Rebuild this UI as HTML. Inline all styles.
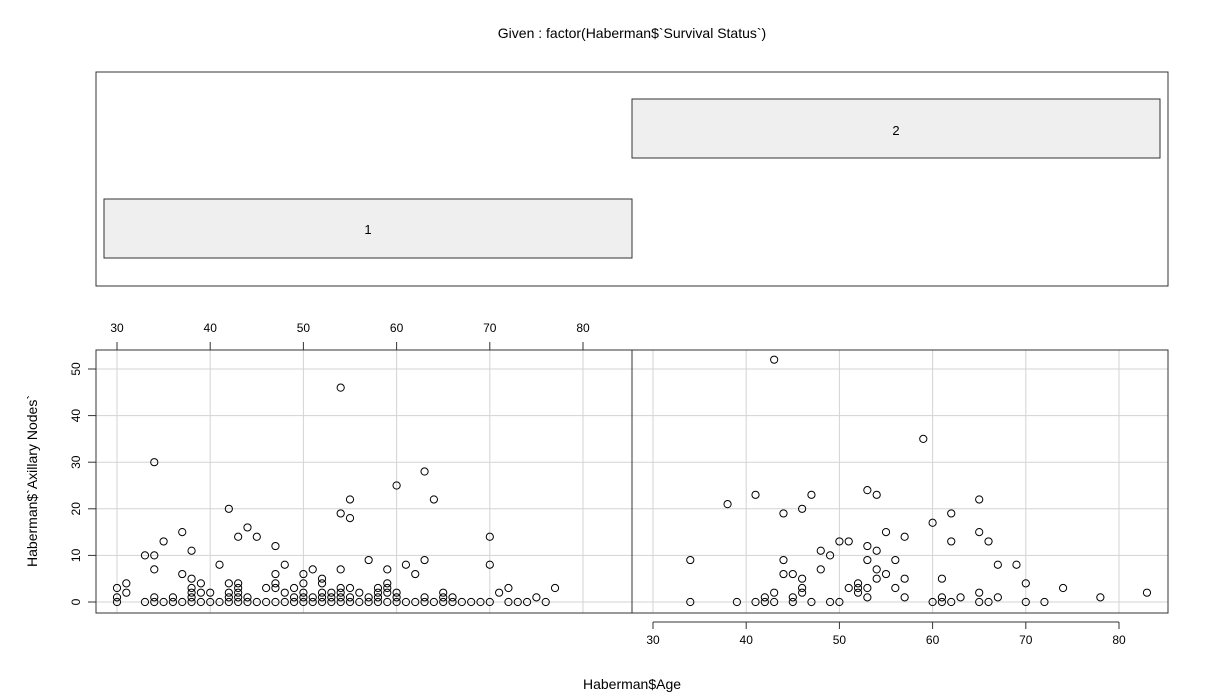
<!DOCTYPE html>
<html><head><meta charset="utf-8"><style>
body{margin:0;background:#fff;}
svg{display:block;font-family:"Liberation Sans",sans-serif;}
</style></head><body>
<svg id="c" width="1232" height="700" xmlns="http://www.w3.org/2000/svg">
<text x="632" y="38" font-size="14" text-anchor="middle">Given : factor(Haberman$`Survival Status`)</text>
<rect x="96" y="72" width="1072" height="214" fill="none" stroke="#333" stroke-width="1"/>
<rect x="632" y="99" width="528" height="59" fill="#efefef" stroke="#333"/>
<text x="896" y="135" font-size="13" text-anchor="middle">2</text>
<rect x="104" y="199" width="528" height="59" fill="#efefef" stroke="#333"/>
<text x="368" y="234" font-size="13" text-anchor="middle">1</text>
<text x="632" y="689" font-size="14" text-anchor="middle">Haberman$Age</text>
<text transform="translate(37,481) rotate(-90)" font-size="14" text-anchor="middle">Haberman$`Axillary Nodes`</text>
<g id="plots"></g>
</svg>
<script>
const xTicks=[30,40,50,60,70,80];
const yTicks=[0,10,20,30,40,50];
const ages1=[30,30,30,31,31,33,33,34,34,34,34,34,35,35,36,36,37,37,37,38,38,38,38,38,38,39,39,39,40,40,41,41,42,42,42,42,42,43,43,43,43,43,43,44,44,44,45,45,46,46,47,47,47,47,47,48,48,48,49,49,49,50,50,50,50,50,51,51,51,52,52,52,52,52,53,53,53,54,54,54,54,54,54,54,55,55,55,55,55,56,56,57,57,57,58,58,58,58,59,59,59,59,59,60,60,60,60,61,61,62,62,63,63,63,63,64,64,65,65,65,66,66,67,68,69,70,70,70,71,72,72,73,74,75,76,77];
const nodes1=[0,1,3,2,4,0,10,0,1,7,10,30,0,13,0,1,0,6,15,0,1,2,3,5,11,0,2,4,0,2,0,8,0,1,2,4,20,0,1,2,3,4,14,0,1,16,0,14,0,3,0,3,4,6,12,0,2,8,0,1,3,0,1,2,4,6,0,1,7,0,1,2,4,5,0,1,2,0,1,2,3,7,19,46,0,1,3,18,22,0,2,0,1,9,0,1,2,3,0,2,3,4,7,0,1,2,25,0,8,0,6,0,1,9,28,0,22,0,1,2,0,1,0,0,0,0,8,14,2,0,3,0,0,1,0,3];
const ages2=[34,34,38,39,41,41,42,42,43,43,43,44,44,44,45,45,45,46,46,46,46,47,47,48,48,49,49,50,50,51,51,52,52,52,53,53,53,53,53,54,54,54,54,55,55,56,56,57,57,57,59,60,60,61,61,61,62,62,62,63,65,65,65,65,66,66,67,67,69,70,70,72,74,78,83];
const nodes2=[0,9,21,0,0,23,0,1,0,2,52,6,9,19,0,1,6,2,3,5,20,0,23,7,11,0,10,0,13,3,13,2,3,4,1,3,9,12,24,5,7,11,23,6,15,3,9,1,5,14,35,0,17,0,1,5,0,13,19,1,0,2,15,22,0,13,1,8,8,0,4,0,3,1,2];
const NS="http://www.w3.org/2000/svg";
const gEl=document.getElementById('plots');
const pTop=350,pBot=613;
const yS=v=>602-(v)*(602-369)/50;
function mk(t,a){const e=document.createElementNS(NS,t);for(const k in a)e.setAttribute(k,a[k]);gEl.appendChild(e);return e;}
function panel(x0,x1,ages,nodes,idx,axisTop){
  const xS=v=>x0+21+(v-30)*(466/50);
  xTicks.forEach(t=>{const e=mk('line',{x1:xS(t),x2:xS(t),y1:pTop,y2:pBot,stroke:'#d3d3d3'});
    
    });
  yTicks.forEach(t=>{const e=mk('line',{x1:x0,x2:x1,y1:yS(t),y2:yS(t),stroke:'#d3d3d3'});
    
    });
  const b=mk('rect',{x:x0,y:pTop,width:x1-x0,height:pBot-pTop,fill:'none',stroke:'#333'});
  
  
  const ay=axisTop?pTop:pBot+9, d=axisTop?-8:7;
  const al=mk('line',{x1:xS(30),x2:xS(80),y1:ay,y2:ay,stroke:'#333'});
  
  
  xTicks.forEach(t=>{
    const tk=mk('line',{x1:xS(t),x2:xS(t),y1:ay,y2:ay+d,stroke:'#333'});
    
    
    const tx=mk('text',{x:xS(t),y:axisTop?ay-18:ay+22,'font-size':12,'text-anchor':'middle'});
    tx.textContent=t;
    
    
  });
  ages.forEach((a,i)=>{const c=mk('circle',{cx:xS(a),cy:yS(nodes[i]),r:3.6,fill:'none',stroke:'#000','stroke-width':1});
    
    });
}
panel(96,632,ages1,nodes1,1,true);
panel(632,1168,ages2,nodes2,2,false);
yTicks.forEach(t=>{
  const tk=mk('line',{x1:88,x2:96,y1:yS(t),y2:yS(t),stroke:'#333'});
  
  
  const tx=mk('text',{transform:`translate(80,${yS(t)}) rotate(-90)`,'font-size':12,'text-anchor':'middle'});
  tx.textContent=t;
  
  
});
</script>
</body></html>
